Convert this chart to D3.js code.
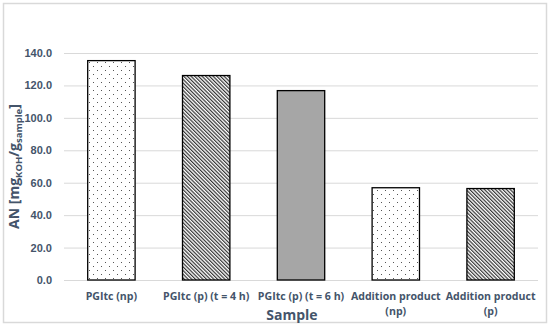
<!DOCTYPE html>
<html>
<head>
<meta charset="utf-8">
<script src="https://cdn.jsdelivr.net/npm/d3@7"></script>
<style>
  body { margin: 0; background: #fff; }
  svg { display: block; font-family: "Open Sans", sans-serif; }
</style>
</head>
<body>
<svg id="chart"></svg>
<script>
// Data
const categories = ['PGItc (np)', 'PGItc (p) (t = 4 h)', 'PGItc (p) (t = 6 h)', 'Addition product (np)', 'Addition product (p)'];
const labelLines = [['PGItc (np)'], ['PGItc (p) (t = 4 h)'], ['PGItc (p) (t = 6 h)'], ['Addition product', '(np)'], ['Addition product', '(p)']];
const values = [135.3, 126.1, 116.8, 56.9, 56.4];
const fills = ['dots', 'hatch', 'gray', 'dots', 'hatch'];
const yTicks = [0, 20, 40, 60, 80, 100, 120, 140];

const width = 550, height = 327;
const margin = { top: 53, right: 12, bottom: 47, left: 64 };
const textColor = '#44546a';

const svg = d3.select('#chart')
  .attr('width', width)
  .attr('height', height);

// outer frame
svg.append('rect')
  .attr('x', 3.5).attr('y', 3.5)
  .attr('width', width - 7).attr('height', height - 8)
  .attr('fill', '#fff')
  .attr('stroke', '#d9d9d9')
  .attr('stroke-width', 1.5);

// patterns
const defs = svg.append('defs');
const dots = defs.append('pattern')
  .attr('id', 'dots')
  .attr('patternUnits', 'userSpaceOnUse')
  .attr('width', 8).attr('height', 8);
dots.append('rect').attr('width', 8).attr('height', 8).attr('fill', '#fff');
dots.append('rect').attr('x', 1).attr('y', 1).attr('width', 1).attr('height', 1).attr('fill', '#555');
dots.append('rect').attr('x', 5).attr('y', 5).attr('width', 1).attr('height', 1).attr('fill', '#555');

const hatch = defs.append('pattern')
  .attr('id', 'hatch')
  .attr('patternUnits', 'userSpaceOnUse')
  .attr('width', 2.6).attr('height', 4)
  .attr('patternTransform', 'rotate(-45)');
hatch.append('rect').attr('width', 2.6).attr('height', 4).attr('fill', '#fff');
hatch.append('rect').attr('x', 0).attr('y', 0).attr('width', 1.2).attr('height', 4).attr('fill', '#333');

const innerW = width - margin.left - margin.right;
const innerH = height - margin.top - margin.bottom;

const chart = svg.append('g')
  .attr('transform', `translate(${margin.left},${margin.top})`);

const xScale = d3.scaleBand()
  .domain(categories)
  .range([0, innerW])
  .paddingInner(0.5)
  .paddingOuter(0.25);

const yScale = d3.scaleLinear()
  .domain([0, 140])
  .range([innerH, 0]);

// gridlines
chart.append('g')
  .selectAll('line')
  .data(yTicks)
  .join('line')
  .attr('x1', 0).attr('x2', innerW)
  .attr('y1', (d) => yScale(d) + 0.5)
  .attr('y2', (d) => yScale(d) + 0.5)
  .attr('stroke', '#d9d9d9')
  .attr('stroke-width', 1);

// y axis
const yAxis = d3.axisLeft(yScale)
  .tickValues(yTicks)
  .tickFormat(d3.format('.1f'))
  .tickSize(0)
  .tickPadding(12);
const yAxisG = chart.append('g').call(yAxis);
yAxisG.select('.domain').remove();
yAxisG.selectAll('text')
  .attr('fill', textColor)
  .style('font-size', '11px')
  .style('font-weight', 'bold');

// bars
const fillFor = (f) => (f === 'gray' ? '#a6a6a6' : `url(#${f})`);
chart.selectAll('.bar')
  .data(categories)
  .join('rect')
  .attr('class', 'bar')
  .attr('x', (d) => xScale(d))
  .attr('y', (d, i) => yScale(values[i]))
  .attr('width', xScale.bandwidth())
  .attr('height', (d, i) => innerH - yScale(values[i]))
  .attr('fill', (d, i) => fillFor(fills[i]))
  .attr('stroke', '#000')
  .attr('stroke-width', 1.3);

// x labels
const xLabels = chart.append('g')
  .selectAll('text')
  .data(categories)
  .join('text')
  .attr('x', (d) => xScale(d) + xScale.bandwidth() / 2)
  .attr('y', innerH + 20)
  .attr('text-anchor', 'middle')
  .attr('fill', textColor)
  .style('font-size', '10.6px')
  .style('font-weight', 'bold');
xLabels.each(function (d, i) {
  const t = d3.select(this);
  labelLines[i].forEach((line, j) => {
    t.append('tspan')
      .attr('x', xScale(d) + xScale.bandwidth() / 2)
      .attr('dy', j === 0 ? 0 : 15)
      .text(line);
  });
});

// x title
svg.append('text')
  .attr('x', 292)
  .attr('y', 320)
  .attr('text-anchor', 'middle')
  .attr('fill', textColor)
  .style('font-size', '14px')
  .style('font-weight', 'bold')
  .text('Sample');

// y title
const yTitle = svg.append('text')
  .attr('transform', `translate(19, ${margin.top + innerH / 2}) rotate(-90)`)
  .attr('text-anchor', 'middle')
  .attr('fill', textColor)
  .style('font-size', '14px')
  .style('font-weight', 'bold');
yTitle.append('tspan').text('AN [mg');
yTitle.append('tspan').attr('dy', 3).style('font-size', '9.5px').text('KOH');
yTitle.append('tspan').attr('dy', -3).text('/g');
yTitle.append('tspan').attr('dy', 3).style('font-size', '9.5px').text('sample');
yTitle.append('tspan').attr('dy', -3).text(']');
</script>
</body>
</html>
